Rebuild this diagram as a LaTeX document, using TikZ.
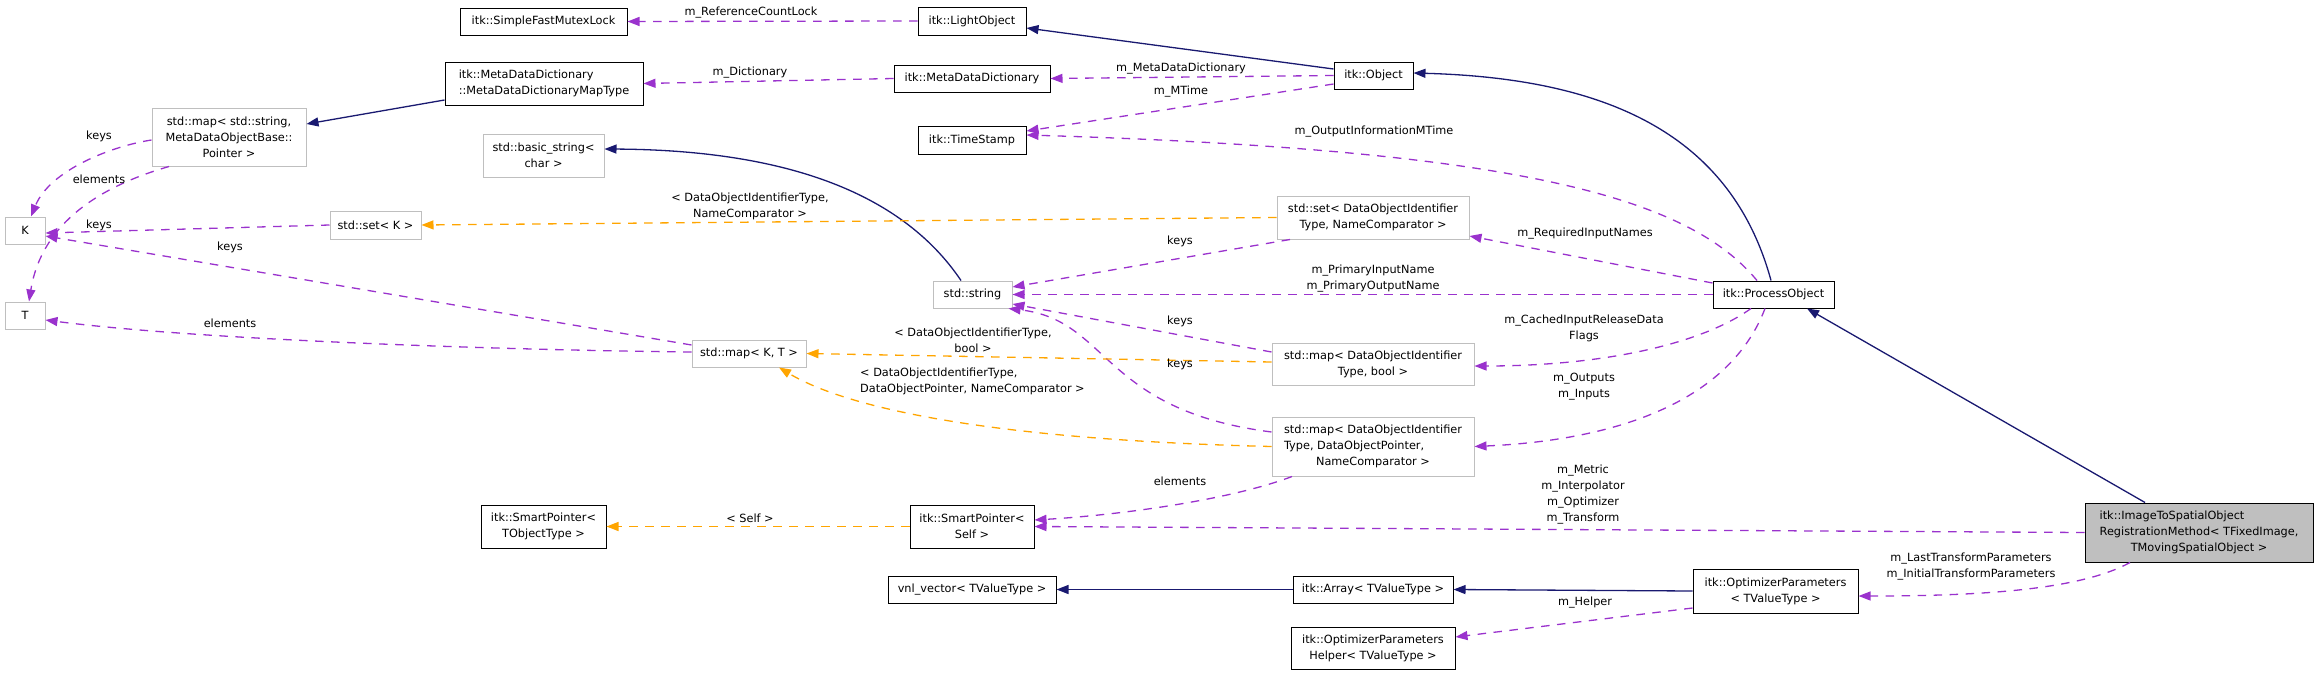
\documentclass[tikz,border=0pt]{standalone}
\usepackage{fontspec}
\setmainfont{DejaVu Sans}
\usetikzlibrary{arrows.meta}
\definecolor{cpurple}{HTML}{9A32CD}
\definecolor{cnavy}{HTML}{191970}
\definecolor{corange}{HTML}{FFA500}
\definecolor{cgray}{HTML}{BFBFBF}
\begin{document}
\begin{tikzpicture}[x=1pt,y=-1pt,
  every node/.style={font=\fontsize{11.3}{16}\selectfont, inner sep=0pt},
  cls/.style={draw=black, line width=1pt, fill=white, align=center},
  ext/.style={draw=cgray, line width=1pt, fill=white, align=center},
  sel/.style={draw=black, line width=1pt, fill=cgray, align=center},
  wh/.style 2 args={minimum width=#1pt, minimum height=#2pt},
  usage/.style={draw=cpurple, line width=1.3pt, dash pattern=on 8.5pt off 7.5pt, -{Triangle[length=12pt,width=9pt,fill=cpurple]}},
  tmpl/.style={draw=corange, line width=1.3pt, dash pattern=on 8.5pt off 7.5pt, -{Triangle[length=12pt,width=9pt,fill=corange]}},
  inh/.style={draw=cnavy, line width=1.3pt, -{Triangle[length=12pt,width=9pt,fill=cnavy]}},
  lbl/.style={align=center}
]
\useasboundingbox (0,0) rectangle (2317,675);

% nodes
\node[cls, wh={167}{27}] (smfl) at (543.5,21.5) {itk::SimpleFastMutexLock};
\node[cls, wh={108}{28}] (light) at (972,21) {itk::LightObject};
\node[cls, wh={198}{43}] (mddmt) at (544,83.5) {\begin{tabular}{@{}l@{}}itk::MetaDataDictionary\\::MetaDataDictionaryMapType\end{tabular}};
\node[cls, wh={156}{27}] (mdd) at (972,78.5) {itk::MetaDataDictionary};
\node[cls, wh={79}{27}] (obj) at (1373.5,75.5) {itk::Object};
\node[ext, wh={154}{58}] (mapstr) at (229,137) {std::map< std::string,\\MetaDataObjectBase::\\Pointer >};
\node[ext, wh={121}{43}] (bstr) at (543.5,155.5) {std::basic\_string<\\char >};
\node[cls, wh={108}{28}] (ts) at (972,140) {itk::TimeStamp};
\node[ext, wh={40}{27}] (K) at (25,230.5) {K};
\node[ext, wh={91}{28}] (setK) at (375.5,225) {std::set< K >};
\node[ext, wh={192}{43}] (setDOI) at (1373,217.5) {std::set< DataObjectIdentifier\\Type, NameComparator >};
\node[ext, wh={79}{27}] (str) at (972.5,294.5) {std::string};
\node[cls, wh={121}{27}] (proc) at (1773.5,294.5) {itk::ProcessObject};
\node[ext, wh={40}{27}] (T) at (25,315.5) {T};
\node[ext, wh={114}{27}] (mapKT) at (749,353.5) {std::map< K, T >};
\node[ext, wh={202}{42}] (mapDOIb) at (1373,364) {std::map< DataObjectIdentifier\\Type, bool >};
\node[ext, wh={202}{59}] (mapDOIp) at (1373,446.5) {\begin{tabular}{@{}l@{}}std::map< DataObjectIdentifier\\Type, DataObjectPointer,\\\multicolumn{1}{@{}c@{}}{NameComparator >}\end{tabular}};
\node[cls, wh={125}{43}] (spT) at (543.5,526.5) {itk::SmartPointer<\\TObjectType >};
\node[cls, wh={124}{43}] (spS) at (972,526.5) {itk::SmartPointer<\\Self >};
\node[sel, wh={228}{59}] (its) at (2199,532.5) {\begin{tabular}{@{}l@{}}itk::ImageToSpatialObject\\RegistrationMethod< TFixedImage,\\\multicolumn{1}{@{}c@{}}{TMovingSpatialObject >}\end{tabular}};
\node[cls, wh={168}{27}] (vnl) at (972,589.5) {vnl\_vector< TValueType >};
\node[cls, wh={160}{27}] (arr) at (1373,589.5) {itk::Array< TValueType >};
\node[cls, wh={165}{44}] (opt) at (1775.5,591) {itk::OptimizerParameters\\< TValueType >};
\node[cls, wh={164}{42}] (opth) at (1373,648) {itk::OptimizerParameters\\Helper< TValueType >};

% edges
\draw[usage] (light.west) -- (smfl.east);
\draw[inh] ([yshift=6.5pt]obj.west) -- ([yshift=-7pt]light.east);
\draw[usage] (mdd.west) -- (mddmt.east);
\draw[inh] ([yshift=-16.5pt]mddmt.west) -- ([yshift=13pt]mapstr.east);
\draw[usage] ([yshift=-3pt]mapstr.west) .. controls (112,146) and (50,170) .. ([xshift=6pt]K.north);
\draw[usage] ([xshift=-60pt]mapstr.south) .. controls (70,195) and (38,245) .. ([xshift=4pt]T.north);
\draw[usage] (setK.west) -- ([yshift=-2.5pt]K.east);
\draw[usage] ([yshift=8.5pt]mapKT.west) -- ([yshift=-5.5pt]K.east);
\draw[usage] ([yshift=1.5pt]mapKT.west) .. controls (500,350) and (200,340) .. ([yshift=-4.5pt]T.east);
\draw[usage] (obj.west) -- (mdd.east);
\draw[usage] ([yshift=-8.5pt]obj.west) -- ([yshift=9pt]ts.east);
\draw[usage] ([xshift=-16.5pt]proc.north) .. controls (1690,200) and (1530,150) .. ([yshift=5pt]ts.east);
\draw[inh] ([xshift=-2.5pt]proc.north) .. controls (1730,130) and (1600,78) .. ([yshift=2.5pt]obj.east);
\draw[inh] ([xshift=-11.5pt]str.north) .. controls (900,190) and (780,150) .. ([yshift=6.5pt]bstr.east);
\draw[tmpl] (setDOI.west) -- (setK.east);
\draw[usage] ([xshift=-83pt]setDOI.south) -- ([yshift=7.5pt]str.east);
\draw[usage] ([yshift=11.5pt]proc.west) -- ([yshift=-18.5pt]setDOI.east);
\draw[usage] (proc.west) -- (str.east);
\draw[usage] ([yshift=12pt]mapDOIb.west) -- ([yshift=-9.5pt]str.east);
\draw[usage] ([yshift=14.5pt]mapDOIp.west) .. controls (1100,410) and (1110,320) .. ([xshift=-4pt]str.south east);
\draw[tmpl] ([yshift=2pt]mapDOIb.west) -- (mapKT.east);
\draw[tmpl] (mapDOIp.west) .. controls (1000,440) and (850,410) .. ([xshift=30pt]mapKT.south);
\draw[usage] ([xshift=-22.5pt]proc.south) .. controls (1700,345) and (1600,366) .. ([yshift=-2pt]mapDOIb.east);
\draw[usage] ([xshift=-8.5pt]proc.south) .. controls (1730,400) and (1620,440) .. (mapDOIp.east);
\draw[usage] ([xshift=-81pt]mapDOIp.south) .. controls (1230,500) and (1120,515) .. ([yshift=6.5pt]spS.east);
\draw[usage] (its.west) -- (spS.east);
\draw[tmpl] (spS.west) -- (spT.east);
\draw[inh] ([xshift=-54pt]its.north) -- ([xshift=33.5pt]proc.south);
\draw[usage] ([xshift=-69pt]its.south) .. controls (2080,590) and (1980,596) .. ([yshift=-5pt]opt.east);
\draw[inh] (opt.west) -- (arr.east);
\draw[inh] (arr.west) -- (vnl.east);
\draw[usage] ([yshift=-17pt]opt.west) -- ([yshift=11pt]opth.east);

% labels
\node[lbl] (l1) at (751,13) {m\_ReferenceCountLock};
\node[lbl] (l2) at (750,73) {m\_Dictionary};
\node[lbl] (l3) at (99,136) {keys};
\node[lbl] (l4) at (99,179) {elements};
\node[lbl] (l5) at (99,225) {keys};
\node[lbl] (l6) at (230,247) {keys};
\node[lbl] (l7) at (230,323) {elements};
\node[lbl] (l8) at (1181,69) {m\_MetaDataDictionary};
\node[lbl] (l9) at (1181,92) {m\_MTime};
\node[lbl] (l10) at (1374,132) {m\_OutputInformationMTime};
\node[lbl] (l11) at (750,206) {< DataObjectIdentifierType,\\NameComparator >};
\node[lbl] (l12) at (1180,241) {keys};
\node[lbl] (l13) at (1373,279) {m\_PrimaryInputName\\m\_PrimaryOutputName};
\node[lbl] (l14) at (1585,234) {m\_RequiredInputNames};
\node[lbl] (l15) at (1180,321) {keys};
\node[lbl] (l16) at (973,340) {< DataObjectIdentifierType,\\bool >};
\node[lbl] (l17) at (1180,364) {keys};
\node[align=left, anchor=west] (l18) at (860,381) {< DataObjectIdentifierType,\\DataObjectPointer, NameComparator >};
\node[lbl] (l19) at (1584,328) {m\_CachedInputReleaseData\\Flags};
\node[lbl] (l20) at (1584,387) {m\_Outputs\\m\_Inputs};
\node[lbl] (l21) at (1180,481) {elements};
\node[lbl] (l22) at (1583,495) {m\_Metric\\m\_Interpolator\\m\_Optimizer\\m\_Transform};
\node[lbl] (l23) at (750,518) {< Self >};
\node[lbl] (l24) at (1971,567) {m\_LastTransformParameters\\m\_InitialTransformParameters};
\node[lbl] (l25) at (1585,603) {m\_Helper};
\end{tikzpicture}
\end{document}
